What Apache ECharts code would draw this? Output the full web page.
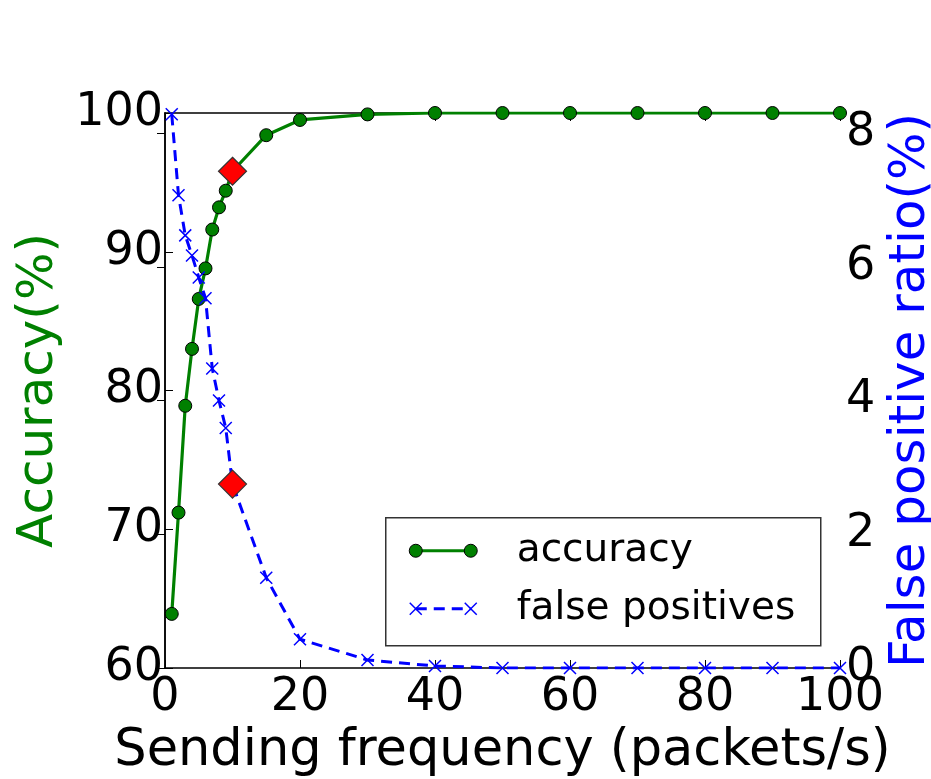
<!DOCTYPE html>
<html>
<head>
<meta charset="utf-8">
<script src="https://cdn.jsdelivr.net/npm/echarts@6/dist/echarts.min.js"></script>
<style>
html,body{margin:0;padding:0;background:#fff;}
#chart{width:931px;height:779px;}
</style>
</head>
<body>
<div id="chart"></div>
<script>
// ---- data ----
var freq = [1, 2, 3, 4, 5, 6, 7, 8, 9, 10, 15, 20, 30, 40, 50, 60, 70, 80, 90, 100];
var accuracy = [63.9, 71.2, 78.9, 83.0, 86.6, 88.8, 91.6, 93.2, 94.4, 95.8, 98.4, 99.5, 99.9, 100, 100, 100, 100, 100, 100, 100];
var falsePositives = [8.28, 7.07, 6.47, 6.17, 5.84, 5.53, 4.48, 4.0, 3.59, 2.75, 1.35, 0.43, 0.12, 0.03, 0, 0, 0, 0, 0, 0];
var highlightFreq = [10];
var highlightAccuracy = [95.8];
var highlightFalsePos = [2.75];
var xTicks = [0, 20, 40, 60, 80, 100];
var accTicks = [60, 70, 80, 90, 100];
var fpTicks = [0, 2, 4, 6, 8];
var seriesNames = ['accuracy', 'false positives'];
var axisNames = ['Sending frequency (packets/s)', 'Accuracy(%)', 'False positive ratio(%)'];

function pairs(xs, ys) { return xs.map(function (x, i) { return [x, ys[i]]; }); }

var FONT = 'DejaVu Sans';
var GREEN = '#008000', BLUE = '#0000ff';
var xCross = 'path://M0,0L10,10M10,0L0,10';

var chart = echarts.init(document.getElementById('chart'), null, {renderer: 'canvas'});

var axisLineStyle = {show: true, lineStyle: {color: '#000', width: 1.5}};
var tickStyle = {show: true, inside: true, length: 8, lineStyle: {color: '#000', width: 1}};

var legendX0 = 385, legendY0 = 517, legendW = 435, legendH = 128;

var option = {
  animation: false,
  backgroundColor: '#fff',
  textStyle: {fontFamily: FONT},
  grid: {left: 165, right: 91, top: 113, bottom: 111, containLabel: false, outerBoundsMode: 'none'},
  xAxis: [{
    type: 'value', min: xTicks[0], max: xTicks[xTicks.length - 1], interval: 20,
    position: 'bottom',
    name: axisNames[0], nameLocation: 'middle', nameGap: 54,
    nameTextStyle: {fontFamily: FONT, fontSize: 51, color: '#000'},
    axisLine: axisLineStyle, axisTick: tickStyle,
    axisLabel: {fontFamily: FONT, fontSize: 46, color: '#000', margin: 7},
    splitLine: {show: false}
  }, {
    type: 'value', min: xTicks[0], max: xTicks[xTicks.length - 1], interval: 20,
    position: 'top',
    axisLine: axisLineStyle, axisTick: tickStyle,
    axisLabel: {show: false}, splitLine: {show: false}
  }],
  yAxis: [{
    type: 'value', min: accTicks[0], max: accTicks[accTicks.length - 1], interval: 10,
    position: 'left',
    name: axisNames[1], nameLocation: 'middle', nameGap: 100, nameRotate: 90,
    nameTextStyle: {fontFamily: FONT, fontSize: 50, color: GREEN},
    axisLine: axisLineStyle, axisTick: tickStyle,
    axisLabel: {fontFamily: FONT, fontSize: 46, color: '#000', margin: 2},
    splitLine: {show: false}
  }, {
    type: 'value', min: fpTicks[0], max: 8.3, interval: 2,
    position: 'right',
    name: axisNames[2], nameLocation: 'middle', nameGap: 40, nameRotate: 90,
    nameTextStyle: {fontFamily: FONT, fontSize: 50, color: BLUE},
    axisLine: axisLineStyle, axisTick: tickStyle,
    axisLabel: {fontFamily: FONT, fontSize: 46, color: '#000', margin: 6, showMaxLabel: false},
    splitLine: {show: false}
  }],
  series: [{
    name: seriesNames[0], type: 'line', xAxisIndex: 0, yAxisIndex: 0,
    data: pairs(freq, accuracy),
    symbol: 'circle', symbolSize: 13, showAllSymbol: true,
    lineStyle: {color: GREEN, width: 3.2},
    itemStyle: {color: GREEN, borderColor: '#000', borderWidth: 1},
    z: 2
  }, {
    name: seriesNames[1], type: 'line', xAxisIndex: 0, yAxisIndex: 1,
    data: pairs(freq, falsePositives),
    symbol: xCross, symbolSize: 12, showAllSymbol: true,
    lineStyle: {color: BLUE, width: 3, type: [11, 7]},
    itemStyle: {color: BLUE, borderColor: BLUE, borderWidth: 1.5},
    z: 3
  }, {
    name: 'highlight accuracy', type: 'scatter', xAxisIndex: 0, yAxisIndex: 0,
    data: pairs(highlightFreq, highlightAccuracy),
    symbol: 'diamond', symbolSize: [28, 28],
    itemStyle: {color: '#ff0000', borderColor: '#333', borderWidth: 1.2, opacity: 1},
    z: 5
  }, {
    name: 'highlight fp', type: 'scatter', xAxisIndex: 0, yAxisIndex: 1,
    data: pairs(highlightFreq, highlightFalsePos),
    symbol: 'diamond', symbolSize: [28, 28],
    itemStyle: {color: '#ff0000', borderColor: '#333', borderWidth: 1.2, opacity: 1},
    z: 5
  }],
  graphic: [{
    type: 'group', left: legendX0, top: legendY0, z: 10,
    children: [
      {type: 'rect', shape: {x: 0, y: 0, width: legendW, height: legendH},
       style: {fill: '#fff', stroke: '#333', lineWidth: 1.5}},
      {type: 'line', shape: {x1: 30, y1: 33, x2: 85, y2: 33}, style: {stroke: GREEN, lineWidth: 3.2}},
      {type: 'circle', shape: {cx: 30, cy: 33, r: 6.5}, style: {fill: GREEN, stroke: '#000', lineWidth: 1}},
      {type: 'circle', shape: {cx: 85, cy: 33, r: 6.5}, style: {fill: GREEN, stroke: '#000', lineWidth: 1}},
      {type: 'text', x: 131, y: 33, style: {text: seriesNames[0], fontFamily: FONT, fontSize: 39, fill: '#000', verticalAlign: 'middle', align: 'left'}},
      {type: 'line', shape: {x1: 30, y1: 91, x2: 85, y2: 91}, style: {stroke: BLUE, lineWidth: 3, lineDash: [11, 7]}},
      {type: 'polyline', shape: {points: [[24, 85], [36, 97]]}, style: {stroke: BLUE, lineWidth: 1.5}},
      {type: 'polyline', shape: {points: [[36, 85], [24, 97]]}, style: {stroke: BLUE, lineWidth: 1.5}},
      {type: 'polyline', shape: {points: [[79, 85], [91, 97]]}, style: {stroke: BLUE, lineWidth: 1.5}},
      {type: 'polyline', shape: {points: [[91, 85], [79, 97]]}, style: {stroke: BLUE, lineWidth: 1.5}},
      {type: 'text', x: 131, y: 91, style: {text: seriesNames[1], fontFamily: FONT, fontSize: 39, fill: '#000', verticalAlign: 'middle', align: 'left'}}
    ]
  }]
};
chart.setOption(option);
</script>
</body>
</html>
